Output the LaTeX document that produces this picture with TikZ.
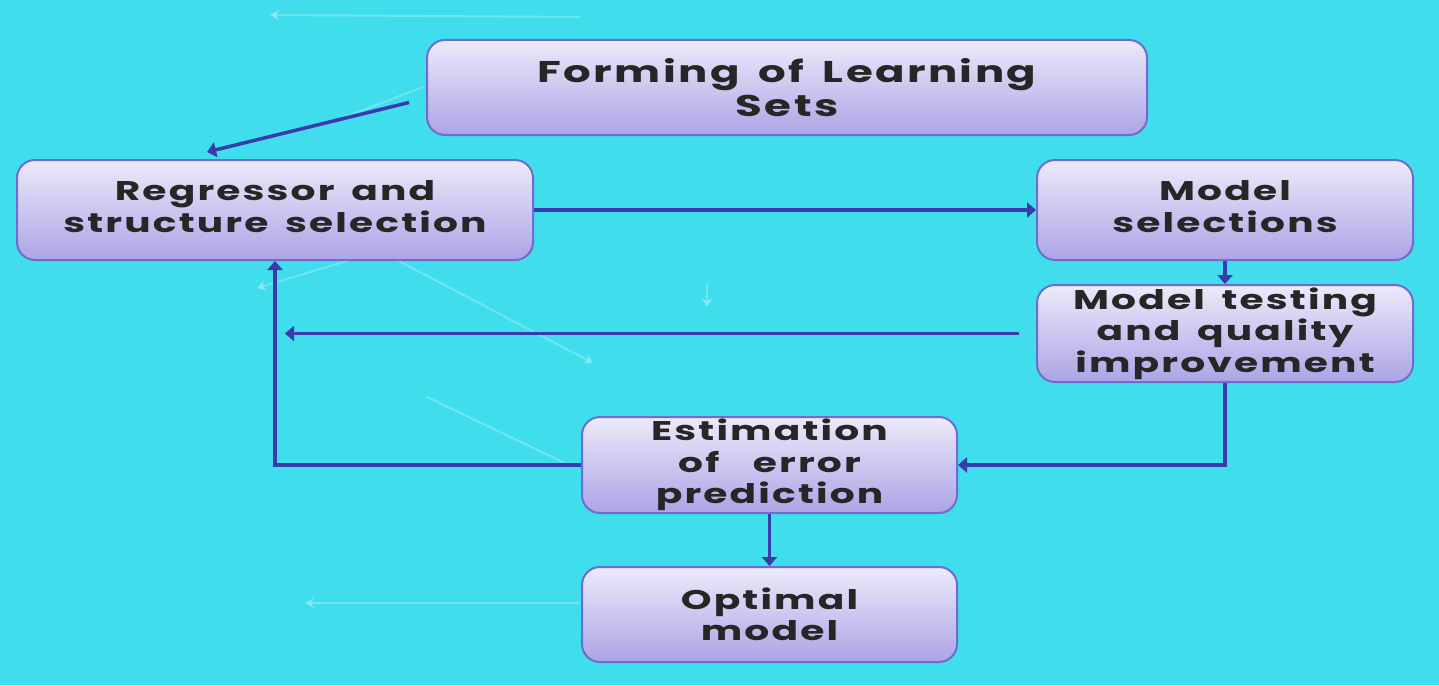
\documentclass[tikz,border=0pt]{standalone}
\usepackage{fontspec}
\setmainfont{Poppins}[LetterSpace=8, FakeStretch=1.45, WordSpace=1.6]
\usetikzlibrary{arrows.meta}
\definecolor{bg}{RGB}{64,221,236}
\definecolor{boxtop}{RGB}{236,234,250}
\definecolor{boxbot}{RGB}{172,164,230}
\definecolor{boxline}{RGB}{110,108,206}
\definecolor{arr}{RGB}{58,58,172}
\newcommand{\lift}[1]{\raisebox{6pt}{\begin{tabular}{@{}c@{}}#1\end{tabular}}}
\begin{document}
\begin{tikzpicture}[x=1pt,y=-1pt,
  stepbox/.style={draw=boxline, line width=2pt, rounded corners=18pt,
    top color=boxtop, bottom color=boxbot, align=center, inner sep=0pt,
    text=black!85, font=\fontsize{27}{31.5}\selectfont\bfseries},
  flow/.style={draw=arr, line width=3.5pt, -{Triangle[length=9pt,width=15pt]}},
  ghost/.style={draw=white, opacity=0.25, line width=2pt},
  ghosttip/.style={ghost, -{Stealth[length=9pt,width=11pt]}}]
\useasboundingbox (0,0) rectangle (1439,685);
\fill[bg] (0,0) rectangle (1439,685);

% faint background arrows
\coordinate (g1a) at (580,17);  \coordinate (g1b) at (270,15);
\coordinate (g2a) at (423,87);  \coordinate (g2b) at (345,117);
\coordinate (g3a) at (397,260); \coordinate (g3b) at (593,363);
\coordinate (g4a) at (350,260); \coordinate (g4b) at (257,288);
\coordinate (g5a) at (707,283); \coordinate (g5b) at (707,307);
\coordinate (g6a) at (427,397); \coordinate (g6b) at (573,467);
\coordinate (g7a) at (580,603); \coordinate (g7b) at (305,603);
\draw[ghosttip] (g1a) -- (g1b);
\draw[ghost] (g2a) -- (g2b);
\draw[ghosttip] (g3a) -- (g3b);
\draw[ghosttip] (g4a) -- (g4b);
\draw[ghosttip] (g5a) -- (g5b);
\draw[ghost] (g6a) -- (g6b);
\draw[ghosttip] (g7a) -- (g7b);

% boxes
\node[stepbox, minimum width=720pt, minimum height=95pt, font=\fontsize{30}{34}\selectfont\bfseries] (form) at (787,87.5) {Forming of Learning\\Sets};
\node[stepbox, minimum width=516pt, minimum height=100pt] (reg) at (275,210) {\lift{Regressor and\\structure selection}};
\node[stepbox, minimum width=376pt, minimum height=100pt] (msel) at (1225,210) {\lift{Model\\selections}};
\node[stepbox, minimum width=376pt, minimum height=97pt] (test) at (1225,333.5) {Model testing\\and quality\\improvement};
\node[stepbox, minimum width=375pt, minimum height=96pt] (est) at (769.5,465) {Estimation\\of\ \ error\\prediction};
\node[stepbox, minimum width=375pt, minimum height=95pt] (opt) at (769.5,614.5) {Optimal\\model};

% connectors
\coordinate (back) at (285,333.5);
\draw[flow] ([shift={(-17,15)}]form.west) -- ([shift={(-68,-7)}]reg.north);
\draw[flow] (reg.east) -- (msel.west);
\draw[flow] (msel.south) -- (test.north);
\draw[flow] ([xshift=-17pt]test.west) -- (back);
\draw[flow] (test.south) |- (est.east);
\draw[flow] (est.west) -| (reg.south);
\draw[flow] (est.south) -- (opt.north);
\end{tikzpicture}
\end{document}
